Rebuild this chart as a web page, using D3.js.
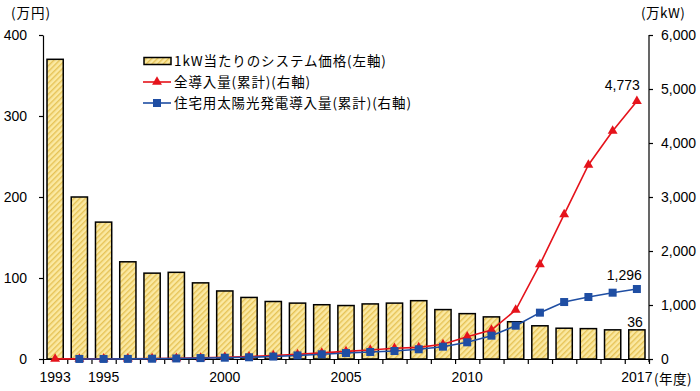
<!DOCTYPE html>
<html><head><meta charset="utf-8">
<script src="https://cdn.jsdelivr.net/npm/d3@7"></script>
<style>
body{margin:0;background:#fff;}
text{font-family:"Liberation Sans",Arial,"Noto Sans CJK JP",sans-serif;}
.jp{font-family:"Noto Sans CJK JP","Liberation Sans",sans-serif;}
</style></head>
<body><svg id="c" width="700" height="391"></svg>
<script>
const years = d3.range(1993, 2018);
const price = [370,200,169,120,106,107,94,84,76,71,69,67,66,68,69,72,61,56,52,46,41,38,37.5,36,36];
const totalInstall = [2,3,4,6,9,13,21,33,45,64,86,113,142,167,198,216,272,413,537,907,1753,2679,3593,4222,4773];
const residential = [null,0.5,1,2,5,10,17,24,32,45,66,87,110,130,148,180,228,309,432,617,858,1055,1148,1228,1296];
const leftTicks = [0,100,200,300,400];
const rightTicks = [0,1000,2000,3000,4000,5000,6000];
const xLabels = [1993,1995,2000,2005,2010,2017];
const legendLabels = ["1kW当たりのシステム価格(左軸)","全導入量(累計)(右軸)","住宅用太陽光発電導入量(累計)(右軸)"];

const svg = d3.select("#c");
const L = 43, R = 649, T = 35, B = 359;
const x = d3.scaleBand().domain(years).range([L, R]).paddingInner(0.33).paddingOuter(0.165);
const xb = d3.scaleLinear().domain([1992.5, 2017.5]).range([L, R]);
const yL = d3.scaleLinear().domain([0, 400]).range([B, T]);
const yR = d3.scaleLinear().domain([0, 6000]).range([B, T]);
const cx = d => x(d) + x.bandwidth()/2;

const defs = svg.append("defs");
const pat = defs.append("pattern").attr("id","hatch").attr("patternUnits","userSpaceOnUse")
  .attr("width",4).attr("height",4).attr("patternTransform","rotate(45)");
pat.append("rect").attr("width",4).attr("height",4).attr("fill","#fbe9a2");
pat.append("rect").attr("width",1.4).attr("height",4).attr("fill","#e6c356");

// bars
svg.append("g").selectAll("rect").data(years).join("rect")
  .attr("x", d => x(d)).attr("width", x.bandwidth())
  .attr("y", (d,i) => yL(price[i])).attr("height", (d,i) => B - yL(price[i]))
  .attr("fill","url(#hatch)").attr("stroke","#000").attr("stroke-width",1.5);

// axes
const axL = svg.append("g").attr("transform",`translate(${L},0)`)
  .call(d3.axisLeft(yL).tickValues(leftTicks).tickSize(4).tickSizeOuter(0).tickPadding(12));
const axR = svg.append("g").attr("transform",`translate(${R},0)`)
  .call(d3.axisRight(yR).tickValues(rightTicks).tickFormat(d3.format(",")).tickSize(4).tickSizeOuter(0).tickPadding(8));
const axB = svg.append("g").attr("transform",`translate(0,${B})`)
  .call(d3.axisBottom(xb).tickValues(d3.range(1992.5, 2018, 1)).tickSize(5).tickSizeOuter(0).tickFormat(""));
const axBL = svg.append("g").attr("transform",`translate(0,${B})`)
  .call(d3.axisBottom(x).tickValues(xLabels).tickSize(0).tickPadding(13));
axBL.select(".domain").remove();
[axL, axR, axB, axBL].forEach(a => {
  a.selectAll("text").attr("font-size",14).attr("fill","#000").attr("font-family",'"Liberation Sans",Arial,sans-serif');
  a.selectAll("line,path").attr("stroke","#000").attr("stroke-width",1.2);
});
axR.select(".domain").attr("d", `M0,${T}V${B+3}`);

// red line
const lineR = d3.line().x((d,i) => cx(years[i])).y(d => yR(d));
svg.append("path").datum(totalInstall).attr("d", lineR).attr("fill","none")
  .attr("stroke","#e5131b").attr("stroke-width",1.6);
const tri = d3.symbol().type(d3.symbolTriangle).size(42);
svg.append("g").selectAll("path").data(totalInstall).join("path")
  .attr("d", tri).attr("transform",(d,i) => `translate(${cx(years[i])},${yR(d)})`)
  .attr("fill","#e5131b");

// blue line
const lineB = d3.line().defined(d => d !== null).x((d,i) => cx(years[i])).y(d => yR(d));
svg.append("path").datum(residential).attr("d", lineB).attr("fill","none")
  .attr("stroke","#1f4ea3").attr("stroke-width",1.6);
svg.append("g").selectAll("rect").data(residential.map((v,i)=>({v,yr:years[i]})).filter(d=>d.v!==null)).join("rect")
  .attr("x", d => cx(d.yr)-4).attr("y", d => yR(d.v)-4).attr("width",8).attr("height",8)
  .attr("fill","#1f4ea3");

// value labels
const last = years.length-1;
const lab = (t, xx, yy) => svg.append("text").attr("x",xx).attr("y",yy).attr("text-anchor","end")
  .attr("font-size",14).attr("fill","#000").text(t);
lab(d3.format(",")(totalInstall[last]), cx(years[last])+3, yR(totalInstall[last])-11);
lab(d3.format(",")(residential[last]), cx(years[last])+5, yR(residential[last])-9);
lab(d3.format(",")(price[last]), cx(years[last])+6, yL(price[last])-3);

// unit labels
svg.append("text").attr("class","jp").attr("x",11).attr("y",18).attr("font-size",13.5).attr("letter-spacing",1).text("(万円)");
svg.append("text").attr("class","jp").attr("x",641).attr("y",18).attr("font-size",13.5).attr("letter-spacing",0.5).text("(万kW)");
svg.append("text").attr("class","jp").attr("x",654).attr("y",384).attr("font-size",13.5).attr("letter-spacing",0.5).text("(年度)");

// legend
const lg = svg.append("g");
const ly = [61, 82, 103];
lg.append("rect").attr("x",144).attr("y",ly[0]-3.5).attr("width",27).attr("height",7)
  .attr("fill","url(#hatch)").attr("stroke","#000").attr("stroke-width",1.5);
lg.append("line").attr("x1",143).attr("x2",171).attr("y1",ly[1]).attr("y2",ly[1]).attr("stroke","#e5131b").attr("stroke-width",1.6);
lg.append("path").attr("d",tri).attr("transform",`translate(157,${ly[1]})`).attr("fill","#e5131b");
lg.append("line").attr("x1",143).attr("x2",171).attr("y1",ly[2]).attr("y2",ly[2]).attr("stroke","#1f4ea3").attr("stroke-width",1.6);
lg.append("rect").attr("x",153).attr("y",ly[2]-4).attr("width",8).attr("height",8).attr("fill","#1f4ea3");
lg.selectAll("text").data(legendLabels).join("text").attr("class","jp")
  .attr("x",174).attr("y",(d,i)=>ly[i]).attr("dy","0.36em").attr("font-size",13.5).attr("letter-spacing",0.9).text(d=>d);
</script></body></html>
